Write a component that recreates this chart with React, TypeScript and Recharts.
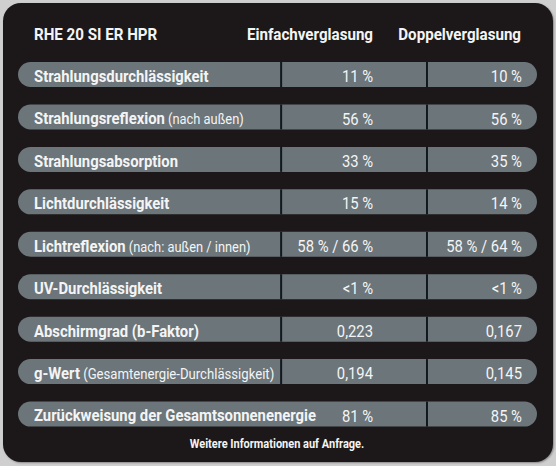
import React from "react";
import { BarChart, Bar, XAxis, YAxis } from "recharts";

const title = "RHE 20 SI ER HPR";
const columns = ["Einfachverglasung", "Doppelverglasung"];

const properties = [
  "Strahlungsdurchlässigkeit",
  "Strahlungsreflexion",
  "Strahlungsabsorption",
  "Lichtdurchlässigkeit",
  "Lichtreflexion",
  "UV-Durchlässigkeit",
  "Abschirmgrad (b-Faktor)",
  "g-Wert",
  "Zurückweisung der Gesamtsonnenenergie",
];
const notes = ["", "(nach außen)", "", "", "(nach: außen / innen)", "", "", "(Gesamtenergie-Durchlässigkeit)", ""];
const einfach = ["11 %", "56 %", "33 %", "15 %", "58 % / 66 %", "<1 %", "0,223", "0,194", "81 %"];
const doppel = ["10 %", "56 %", "35 %", "14 %", "58 % / 64 %", "<1 %", "0,167", "0,145", "85 %"];
// rows whose label runs over the first divider
const wideRows = ["Zurückweisung der Gesamtsonnenenergie"];
const footer = "Weitere Informationen auf Anfrage.";

const rows = properties.map((p, i) => ({
  label: p,
  note: notes[i],
  einfach: einfach[i],
  doppel: doppel[i],
  wide: wideRows.includes(p),
  span: 1,
}));

const FONT = "Roboto, 'Liberation Sans', sans-serif";
const BAR = "#6b757a";
const PANEL = "#1c1819";
const TEXT = "#f4f4f4";

// text squeezed horizontally around its anchor point, to look like a condensed face
const CText = ({ x, y, anchor = "start", size = 16.5, weight = 700, sx = 0.9, dy = "0.45em", children }: any) => (
  <text
    transform={`translate(${x},${y}) scale(${sx},1)`}
    x={0}
    y={0}
    dy={dy}
    textAnchor={anchor}
    fill={TEXT}
    fontFamily={FONT}
    fontSize={size}
    fontWeight={weight}
  >
    {children}
  </text>
);

const RowShape = (props: any) => {
  const { x, y, width, height, payload } = props;
  const r = height / 2;
  const d1 = x + width * 0.507;
  const d2 = x + width * 0.788;
  const cy = y + height / 2;
  const path = `M${x + r},${y} H${x + width - r} A${r},${r} 0 0 1 ${x + width - r},${y + height} H${x + r} A${r},${r} 0 0 1 ${x + r},${y} Z`;
  return (
    <g>
      <path d={path} fill={BAR} />
      {!payload.wide && <line x1={d1} x2={d1} y1={y} y2={y + height} stroke="#10181d" strokeWidth={2} />}
      <line x1={d2} x2={d2} y1={y} y2={y + height} stroke="#10181d" strokeWidth={2} />
      <CText x={x + 16} y={cy}>
        {payload.label}
        {payload.note && (
          <tspan fontWeight={400} fontSize={payload.label === "g-Wert" ? 14.6 : 14.3}>{" " + payload.note}</tspan>
        )}
      </CText>
      <CText x={x + width * 0.684} y={cy} anchor="end" weight={400} size={17} sx={0.87}>
        {payload.einfach}
      </CText>
      <CText x={x + width * 0.971} y={cy} anchor="end" weight={400} size={17} sx={0.87}>
        {payload.doppel}
      </CText>
    </g>
  );
};

export default function App() {
  return (
    <div style={{ position: "absolute", left: 0, top: 0, width: 556, height: 466, background: "#cfcfcf" }}>
      <div
        style={{
          position: "absolute",
          left: 3,
          top: 3,
          width: 550,
          height: 459,
          background: PANEL,
          borderRadius: 18,
          boxShadow: "1px 1px 2px #888",
        }}
      />
      <BarChart
        width={556}
        height={466}
        data={rows}
        layout="vertical"
        margin={{ top: 53, right: 19, bottom: 31, left: 18 }}
        style={{ position: "absolute", left: 0, top: 0 }}
      >
        <XAxis type="number" domain={[0, 1]} hide />
        <YAxis type="category" dataKey="label" hide />
        <Bar dataKey="span" barSize={25} shape={RowShape} isAnimationActive={false} />
        <CText x={34} y={34} size={17} sx={0.89} dy="0.36em">{title}</CText>
        <CText x={373} y={34} anchor="end" size={17} sx={0.89} dy="0.36em">{columns[0]}</CText>
        <CText x={521} y={34} anchor="end" size={17} sx={0.89} dy="0.36em">{columns[1]}</CText>
        <CText x={277} y={443.5} anchor="middle" size={12.5} sx={0.88} dy="0.36em">{footer}</CText>
      </BarChart>
    </div>
  );
}
